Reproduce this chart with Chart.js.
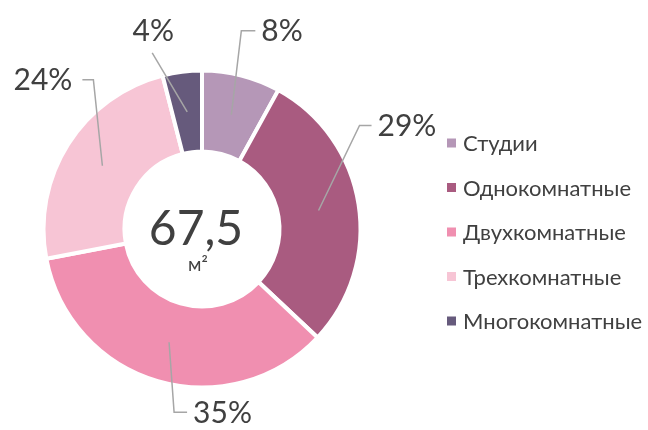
<!DOCTYPE html>
<html>
<head>
<meta charset="utf-8">
<script src="https://cdn.jsdelivr.net/npm/chart.js@4.4.1/dist/chart.umd.min.js"></script>
<style>
  html, body { margin: 0; padding: 0; background: #fff; }
  #wrap { width: 648px; height: 430px; position: relative; }
</style>
</head>
<body>
<div id="wrap"><canvas id="c" width="648" height="430"></canvas></div>
<script>
// ===== данные =====
const CATEGORIES = ['Студии', 'Однокомнатные', 'Двухкомнатные', 'Трехкомнатные', 'Многокомнатные'];
const SHARES = [8, 29, 35, 24, 4];
const COLORS = ['#b597b7', '#a95b80', '#f08fb0', '#f7c5d5', '#665a7c'];
const CENTER_VALUE = '67,5';
const CENTER_UNIT = 'м²';

const FONT = 'Lato, "Noto Sans", sans-serif';
const INK = '#404040';
const LEADER = '#a6a6a6';

// выноски: смещения от центра сегмента (dx, dy до излома, длина полки, выравнивание)
const CALLOUT = [
  { dx: 10,  dy: -84, shelf: 14,  align: 'left' },
  { dx: 41,  dy: -85, shelf: 12,  align: 'left' },
  { dx: 5,   dy: 70,  shelf: 13,  align: 'left' },
  { dx: -9,  dy: -86, shelf: -11, align: 'right' },
  { dx: -35, dy: -59, shelf: 0,   align: 'top' },
];

const calloutPlugin = {
  id: 'callouts',
  afterDatasetsDraw(chart) {
    const { ctx } = chart;
    const meta = chart.getDatasetMeta(0);
    ctx.save();
    meta.data.forEach((arc, i) => {
      const p = arc.tooltipPosition();
      const c = CALLOUT[i];
      const ex = p.x + c.dx, ey = p.y + c.dy;
      ctx.strokeStyle = LEADER; ctx.lineWidth = 1.5;
      ctx.beginPath();
      ctx.moveTo(p.x, p.y);
      ctx.lineTo(ex, ey);
      if (c.shelf) ctx.lineTo(ex + c.shelf, ey);
      ctx.stroke();
      ctx.fillStyle = INK;
      ctx.font = `30px ${FONT}`;
      const txt = SHARES[i] + '%';
      if (c.align === 'top') {
        ctx.textAlign = 'center'; ctx.textBaseline = 'middle';
        ctx.fillText(txt, ex + 1, ey - 22);
      } else if (c.align === 'left') {
        ctx.textAlign = 'left'; ctx.textBaseline = 'middle';
        ctx.fillText(txt, ex + c.shelf + 6, ey + 1);
      } else {
        ctx.textAlign = 'right'; ctx.textBaseline = 'middle';
        ctx.fillText(txt, ex + c.shelf - 10, ey + 1);
      }
    });
    // центр
    const a = meta.data[0];
    ctx.fillStyle = INK;
    ctx.textAlign = 'center'; ctx.textBaseline = 'alphabetic';
    ctx.font = `48px ${FONT}`;
    ctx.fillText(CENTER_VALUE, a.x - 6, a.y + 16);
    ctx.font = `19px ${FONT}`;
    ctx.fillText(CENTER_UNIT, a.x - 4, a.y + 42);
    // легенда
    ctx.textAlign = 'left'; ctx.textBaseline = 'middle';
    ctx.font = `22px ${FONT}`;
    CATEGORIES.forEach((lbl, i) => {
      const y = 143 + i * 44.5;
      ctx.fillStyle = COLORS[i];
      ctx.fillRect(447, y - 4.5, 9, 9);
      ctx.fillStyle = INK;
      ctx.fillText(lbl, 463, y + 1);
    });
    ctx.restore();
  }
};

new Chart(document.getElementById('c'), {
  type: 'doughnut',
  data: {
    labels: CATEGORIES,
    datasets: [{
      data: SHARES,
      backgroundColor: COLORS,
      borderColor: '#ffffff',
      borderWidth: 4,
      hoverOffset: 0,
    }]
  },
  options: {
    responsive: false,
    animation: false,
    radius: 158.5,
    cutout: 87,
    layout: { padding: { left: 22, right: 266, top: 49, bottom: 21 } },
    plugins: { legend: { display: false }, tooltip: { enabled: false } },
  },
  plugins: [calloutPlugin],
});
</script>
</body>
</html>
